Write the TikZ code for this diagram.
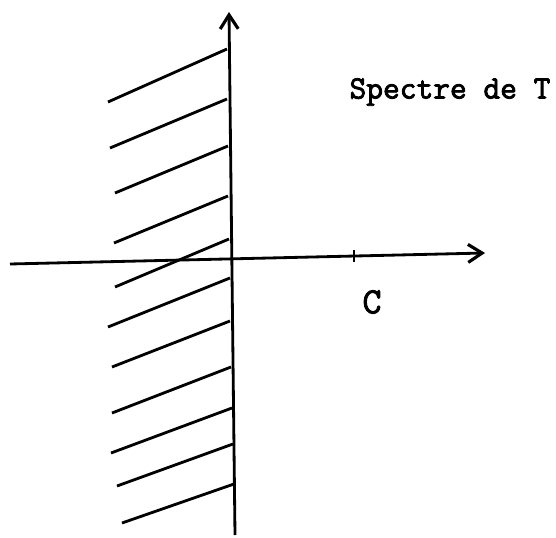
\documentclass[tikz,border=0pt]{standalone}
\usepackage{fontspec}
\usepackage{tikz}
\usetikzlibrary{arrows.meta}
\usetikzlibrary{positioning}
\newfontfamily\spectt{Latin Modern Mono}[FakeBold=2.5]

\begin{document}
\begin{tikzpicture}[
  axis/.style={-{Straight Barb[length=2.8mm,width=3.6mm,line width=1.8pt]}, line width=1.6pt},
  hatch/.style={line width=1.6pt},
  lbl/.style={font=\spectt\fontsize{18.5}{20}\selectfont, inner sep=0pt}
]
\useasboundingbox (-4.6,-5.54) rectangle (6.52,5.2);

% Axes
\coordinate (xl) at (-4.4,-0.08);
\coordinate (xr) at (5.1,0.14);
\coordinate (yb) at (0.1,-5.5);
\coordinate (yt) at (-0.02,4.96);
\coordinate (tk) at (2.48,0.08);
\draw[axis] (xl) -- (xr);
\draw[axis] (yb) -- (yt);
\draw[line width=1.6pt] ([yshift=-0.12cm]tk) -- ([yshift=0.12cm]tk);

% Hatching of the left half-plane
\foreach \xa/\ya/\xb/\yb in {
  -2.44/3.16/-0.06/4.22, -2.40/2.24/-0.06/3.22, -2.30/1.34/-0.04/2.28,
  -2.32/0.34/-0.04/1.28, -2.30/-0.54/-0.02/0.42, -2.44/-1.34/0/-0.36,
  -2.36/-2.14/0/-1.22, -2.36/-3.06/0.02/-2.14, -2.38/-3.86/0.04/-2.96,
  -2.26/-4.52/0.06/-3.68, -2.16/-5.26/0.08/-4.48}
  \draw[hatch] (\xa,\ya) -- (\xb,\yb);

% Labels
\node[lbl, font=\spectt\fontsize{21}{22}\selectfont] (c) at (2.84,-0.84) {C};
\node[lbl] (spec) at (4.4,3.36) {Spectre de T};
\end{tikzpicture}
\end{document}
